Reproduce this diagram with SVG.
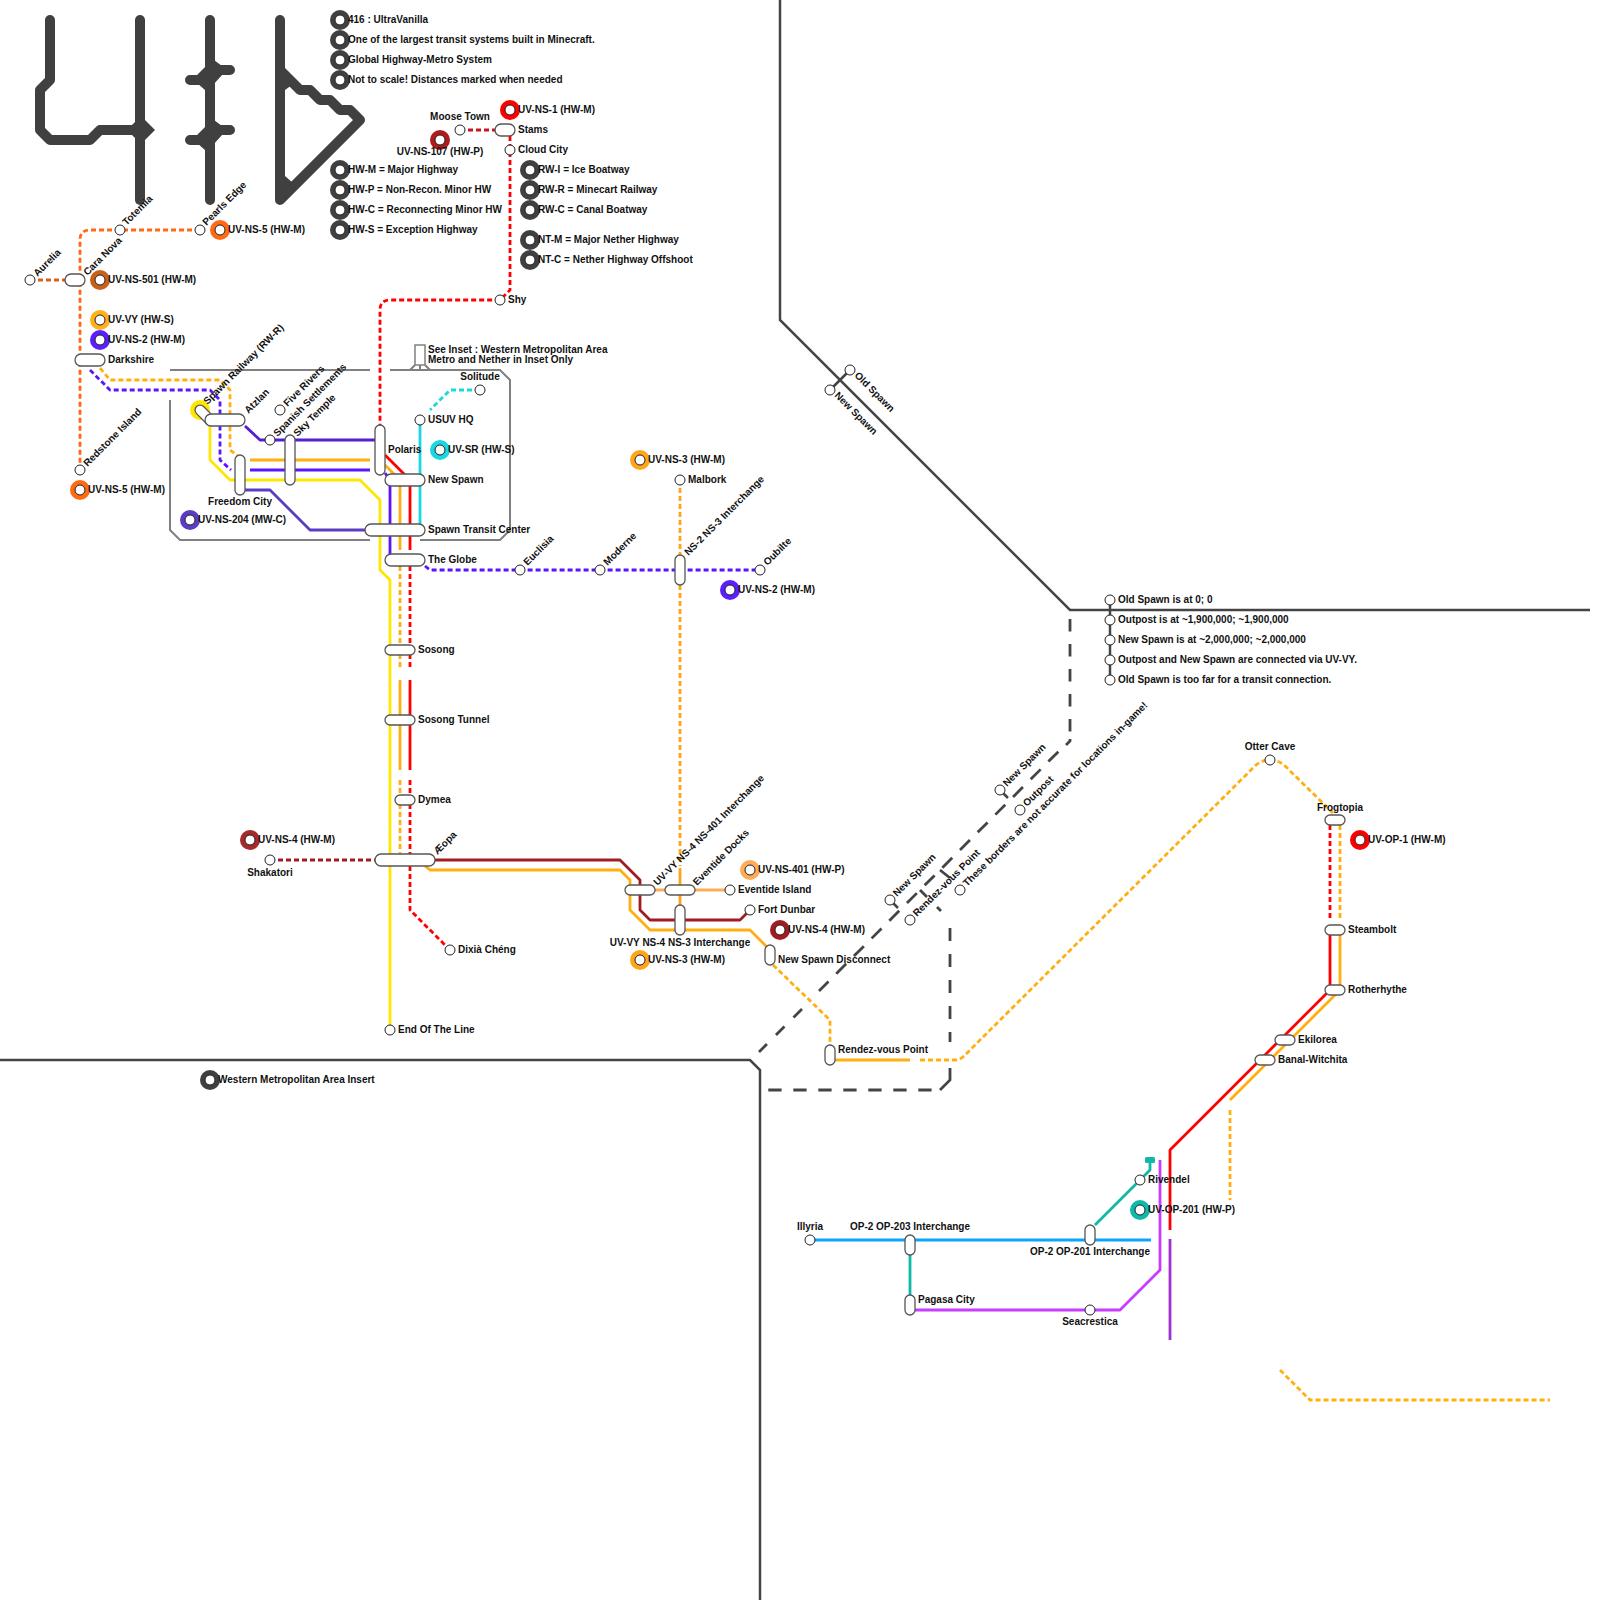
<svg xmlns="http://www.w3.org/2000/svg" width="1600" height="1600" viewBox="0 0 1600 1600">
<style>
text{font-family:"Liberation Sans",Arial,sans-serif;font-size:10px;font-weight:700;fill:#111}
.m{text-anchor:middle}
.l{fill:none;stroke-width:2.8;stroke-linejoin:round}
.d{stroke-dasharray:5 3}
.s{fill:#fff;stroke:#222;stroke-width:1}
.i{fill:#fff;stroke:#555;stroke-width:1.3}
.b{fill:none;stroke:#444;stroke-width:2.5}
.bd{fill:none;stroke:#444;stroke-width:2.8;stroke-dasharray:13 12}
.g{fill:none;stroke:#808080;stroke-width:2}
.logo{fill:none;stroke:#404040;stroke-width:10;stroke-linecap:round;stroke-linejoin:round}
.lf{fill:#404040}
.red{stroke:#f00}.dr{stroke:#a01c20}.or{stroke:#ffaf0f}.ns3{stroke:#ffa51a}.pu{stroke:#5a14ff}.ye{stroke:#ffe600}.cy{stroke:#19d8e0}.o5{stroke:#ff6a13}.te{stroke:#10b8a8}.bl{stroke:#0aa5ff}.ma{stroke:#c83cff}
</style>
<g id="logo">
<path class="logo" d="M50 20V80L40 90V130L50 140H90L100 130H140"/>
<path class="logo" d="M140 20V200"/>
<path class="lf" d="M141 116L155 130L141 144L127 130Z"/>
<path class="logo" d="M210 20V200M190 80H200M230 70H220M190 140H200M230 130H220"/>
<path class="lf" d="M210 57L222 66V75L213 85L205 90L197 83V75L208 64ZM210 117L222 126V135L213 145L205 150L197 143V135L208 124Z"/>
<path class="logo" d="M280 20V200L360 120L350 110H340L330 100H320L310 90H300L280 70"/>
<path class="lf" d="M285 72V90L292 85ZM285 176V192L293 183Z"/>
</g>
<g id="borders">
<path class="b" d="M780 0V320L1070 610H1590"/>
<path class="b" d="M0 1060H750L760 1070V1600"/>
<path class="bd" style="stroke-dasharray:12.5 12.5" d="M1070 619V732"/>
<path class="bd" style="stroke-dasharray:none" d="M1070 739V741L1066 745"/>
<path class="bd" style="stroke-dasharray:14 11" d="M1058.3 751.7L819 991"/>
<path class="bd" style="stroke-dasharray:12 12.8" d="M802 1009L759 1052"/>
<path class="bd" style="stroke-dasharray:13.3 11.7" d="M768.3 1090H932"/>
<path class="bd" style="stroke-dasharray:none" d="M940 1090L950 1080V1068"/>
<path class="bd" style="stroke-dasharray:13 13" d="M950 928V1042"/>
<path class="bd" style="stroke-dasharray:none" d="M937 907L941 911M920 890L927 897M940 870L950 878"/>
<path class="g" d="M170 370H370M390 370H500L510 380V530L500 540H420M370 540H180L170 530V400"/>
<path class="g" d="M410 370L415 365M430 370L425 365M420 365V370"/>
<rect x="415" y="345" width="10" height="20" fill="#fff" stroke="#808080" stroke-width="1.5"/>
</g>
<g id="connectors">
<path class="l d" stroke="#c81420" d="M460 130H505"/>
<path class="l d red" d="M510 136V290L500 300H390Q380 300 380 310V430"/>
<path class="l d o5" d="M200 230H90Q80 230 80 240V470"/>
<path class="l d" stroke="#d9601a" d="M30 280H75"/>
<path class="l d or" d="M100 368L110 380H220L230 390V450L238 456"/>
<path class="l d pu" d="M90 370L110 390H210L220 400V460L231 470"/>
<path class="l or" d="M250 460H370M385 465L400 480V550"/>
<path class="l pu" d="M250 470H370M385 473L390 480V556"/>
<path class="l ye" d="M210 420V460L230 480H360L380 500V570L390 580V1030"/>
<path class="l" stroke="#5220d0" d="M245 426L260 440H380"/>
<path class="l" stroke="#5b3cc4" d="M245 490H270L310 530H370"/>
<path class="l red" d="M385 455L410 480V550"/>
<path class="l cy" d="M420 420V530"/>
<path class="l d cy" d="M480 390H450L430 410"/>
<path class="l d or" d="M400 566V670M400 780V855"/>
<path class="l or" d="M400 680V770"/>
<path class="l d red" d="M410 566V670M410 780V855M410 866V910L450 950"/>
<path class="l red" d="M410 680V770"/>
<path class="l d pu" d="M425 566L430 570H760"/>
<path class="l d" stroke="#a01c20" d="M270 860H375"/>
<path class="l dr" d="M435 860H620L640 880V910L650 920H740L750 910"/>
<path class="l or" d="M425 866L430 870H620L630 880V910L650 930H750L770 950"/>
<path class="l d or" d="M773 965L830 1020V1050"/>
<path class="l or" d="M835 1060H910"/>
<path class="l d or" d="M920 1060H955Q960 1060 964 1056L1256 765Q1262 760 1270 760Q1278 760 1284 765L1333 813"/>
<path class="l d ns3" d="M680 480V555M680 585V866"/>
<path class="l ns3" d="M680 868V905"/>
<path class="l" stroke="#ffab57" d="M655 890H730"/>
<path class="l d red" d="M1330 825V920"/>
<path class="l d or" d="M1340 825V920"/>
<path class="l red" d="M1330 935V990L1170 1150V1230"/>
<path class="l or" d="M1340 935V990L1230 1100"/>
<path class="l d or" d="M1230 1110V1200"/>
<path class="l d or" d="M1280 1370L1310 1400H1550"/>
<path class="l bl" d="M810 1240H1151"/>
<path class="l te" d="M910 1255V1295M1095 1225L1150 1170V1160"/>
<rect x="1145" y="1157" width="10" height="6" rx="1.5" fill="#10b8a8"/>
<path class="l ma" d="M915 1310H1120L1160 1270V1160"/>
<path class="l" stroke="#a030d0" d="M1170 1239V1340"/>
<path d="M1110 600V680M830 390L850 370M890 900L898 908M1000 790L1008 798" stroke="#444" stroke-width="2.5" fill="none"/>
</g>
<g id="legend-416"><circle cx="340" cy="20" r="10" class="lf"/><circle cx="340" cy="20" r="5" class="s"/><text x="348" y="23">416 : UltraVanilla</text></g>
<g id="legend-largest"><circle cx="340" cy="40" r="10" class="lf"/><circle cx="340" cy="40" r="5" class="s"/><text x="348" y="43">One of the largest transit systems built in Minecraft.</text></g>
<g id="legend-global"><circle cx="340" cy="60" r="10" class="lf"/><circle cx="340" cy="60" r="5" class="s"/><text x="348" y="63">Global Highway-Metro System</text></g>
<g id="legend-scale"><circle cx="340" cy="80" r="10" class="lf"/><circle cx="340" cy="80" r="5" class="s"/><text x="348" y="83">Not to scale! Distances marked when needed</text></g>
<g id="legend-hwm"><circle cx="340" cy="170" r="10" class="lf"/><circle cx="340" cy="170" r="5" class="s"/><text x="348" y="173">HW-M = Major Highway</text></g>
<g id="legend-hwp"><circle cx="340" cy="190" r="10" class="lf"/><circle cx="340" cy="190" r="5" class="s"/><text x="348" y="193">HW-P = Non-Recon. Minor HW</text></g>
<g id="legend-hwc"><circle cx="340" cy="210" r="10" class="lf"/><circle cx="340" cy="210" r="5" class="s"/><text x="348" y="213">HW-C = Reconnecting Minor HW</text></g>
<g id="legend-hws"><circle cx="340" cy="230" r="10" class="lf"/><circle cx="340" cy="230" r="5" class="s"/><text x="348" y="233">HW-S = Exception Highway</text></g>
<g id="legend-rwi"><circle cx="530" cy="170" r="10" class="lf"/><circle cx="530" cy="170" r="5" class="s"/><text x="538" y="173">RW-I = Ice Boatway</text></g>
<g id="legend-rwr"><circle cx="530" cy="190" r="10" class="lf"/><circle cx="530" cy="190" r="5" class="s"/><text x="538" y="193">RW-R = Minecart Railway</text></g>
<g id="legend-rwc"><circle cx="530" cy="210" r="10" class="lf"/><circle cx="530" cy="210" r="5" class="s"/><text x="538" y="213">RW-C = Canal Boatway</text></g>
<g id="legend-ntm"><circle cx="530" cy="240" r="10" class="lf"/><circle cx="530" cy="240" r="5" class="s"/><text x="538" y="243">NT-M = Major Nether Highway</text></g>
<g id="legend-ntc"><circle cx="530" cy="260" r="10" class="lf"/><circle cx="530" cy="260" r="5" class="s"/><text x="538" y="263">NT-C = Nether Highway Offshoot</text></g>
<g id="legend-wma"><circle cx="210" cy="1080" r="10" class="lf"/><circle cx="210" cy="1080" r="5" class="s"/><text x="218" y="1083">Western Metropolitan Area Insert</text></g>
<g id="ring-ns1"><circle cx="510" cy="110" r="10" fill="#f00"/><circle cx="510" cy="110" r="5" class="s"/><text x="518" y="113">UV-NS-1 (HW-M)</text></g>
<g id="ring-ns107"><circle cx="440" cy="140" r="10" fill="#b01c1c"/><circle cx="440" cy="140" r="5" class="s"/><text class="m" x="440" y="155">UV-NS-107 (HW-P)</text></g>
<g id="ring-ns5a"><circle cx="220" cy="230" r="10" fill="#ff6a13"/><circle cx="220" cy="230" r="5" class="s"/><text x="228" y="233">UV-NS-5 (HW-M)</text></g>
<g id="ring-ns501"><circle cx="100" cy="280" r="10" fill="#c9601a"/><circle cx="100" cy="280" r="5" class="s"/><text x="108" y="283">UV-NS-501 (HW-M)</text></g>
<g id="ring-vy"><circle cx="100" cy="320" r="10" fill="#ffb01a"/><circle cx="100" cy="320" r="5" class="s"/><text x="108" y="323">UV-VY (HW-S)</text></g>
<g id="ring-ns2a"><circle cx="100" cy="340" r="10" fill="#5a1eff"/><circle cx="100" cy="340" r="5" class="s"/><text x="108" y="343">UV-NS-2 (HW-M)</text></g>
<g id="ring-ns5b"><circle cx="80" cy="490" r="10" fill="#ff6a13"/><circle cx="80" cy="490" r="5" class="s"/><text x="88" y="493">UV-NS-5 (HW-M)</text></g>
<g id="ring-ns204"><circle cx="190" cy="520" r="10" fill="#5b3cc4"/><circle cx="190" cy="520" r="5" class="s"/><text x="198" y="523">UV-NS-204 (MW-C)</text></g>
<g id="ring-sr"><circle cx="440" cy="450" r="10" fill="#19d8e0"/><circle cx="440" cy="450" r="5" class="s"/><text x="448" y="453">UV-SR (HW-S)</text></g>
<g id="ring-ns3a"><circle cx="640" cy="460" r="10" fill="#ffa51a"/><circle cx="640" cy="460" r="5" class="s"/><text x="648" y="463">UV-NS-3 (HW-M)</text></g>
<g id="ring-ns2b"><circle cx="730" cy="590" r="10" fill="#5a1eff"/><circle cx="730" cy="590" r="5" class="s"/><text x="738" y="593">UV-NS-2 (HW-M)</text></g>
<g id="ring-ns4a"><circle cx="250" cy="840" r="10" fill="#a52a2a"/><circle cx="250" cy="840" r="5" class="s"/><text x="258" y="843">UV-NS-4 (HW-M)</text></g>
<g id="ring-ns401"><circle cx="750" cy="870" r="10" fill="#ffab57"/><circle cx="750" cy="870" r="5" class="s"/><text x="758" y="873">UV-NS-401 (HW-P)</text></g>
<g id="ring-ns4b"><circle cx="780" cy="930" r="10" fill="#a01c20"/><circle cx="780" cy="930" r="5" class="s"/><text x="788" y="933">UV-NS-4 (HW-M)</text></g>
<g id="ring-ns3b"><circle cx="640" cy="960" r="10" fill="#ffa51a"/><circle cx="640" cy="960" r="5" class="s"/><text x="648" y="963">UV-NS-3 (HW-M)</text></g>
<g id="ring-op1"><circle cx="1360" cy="840" r="10" fill="#f00"/><circle cx="1360" cy="840" r="5" class="s"/><text x="1368" y="843">UV-OP-1 (HW-M)</text></g>
<g id="ring-op201"><circle cx="1140" cy="1210" r="10" fill="#10b8a8"/><circle cx="1140" cy="1210" r="5" class="s"/><text x="1148" y="1213">UV-OP-201 (HW-P)</text></g>
<g id="moose-town"><circle cx="460" cy="130" r="5" class="s"/><text class="m" x="460" y="120">Moose Town</text></g>
<g id="stams"><rect x="495" y="124" width="20" height="12" rx="6" class="i"/><text x="518" y="133">Stams</text></g>
<g id="cloud-city"><circle cx="510" cy="150" r="5" class="s"/><text x="518" y="153">Cloud City</text></g>
<g id="shy"><circle cx="500" cy="300" r="5" class="s"/><text x="508" y="303">Shy</text></g>
<g id="totemia"><circle cx="120" cy="230" r="5" class="s"/><text x="126.5" y="226" transform="rotate(-45 126.5 226)">Totemia</text></g>
<g id="pearls-edge"><circle cx="200" cy="230" r="5" class="s"/><text x="206.5" y="226" transform="rotate(-45 206.5 226)">Pearls Edge</text></g>
<g id="aurelia"><circle cx="30" cy="280" r="5" class="s"/><text x="37.5" y="277" transform="rotate(-45 37.5 277)">Aurelia</text></g>
<g id="cara-nova"><rect x="65" y="274" width="20" height="12" rx="6" class="i"/><text x="87.5" y="276" transform="rotate(-45 87.5 276)">Cara Nova</text></g>
<g id="darkshire"><rect x="75" y="354" width="30" height="12" rx="6" class="i"/><text x="108" y="363">Darkshire</text></g>
<g id="redstone-island"><circle cx="80" cy="470" r="5" class="s"/><text x="87.5" y="467" transform="rotate(-45 87.5 467)">Redstone Island</text></g>
<g id="spawn-railway"><circle cx="200" cy="410" r="10" fill="#ffe600"/><rect x="193" y="410" width="24" height="10" rx="5" class="i" transform="rotate(45 205 415)"/><text x="207.5" y="405" transform="rotate(-45 207.5 405)">Spawn Railway (RW-R)</text></g>
<g id="atzlan"><rect x="205" y="414" width="40" height="12" rx="6" class="i"/><text x="248.5" y="414" transform="rotate(-45 248.5 414)">Atzlan</text></g>
<g id="five-rivers"><circle cx="280" cy="410" r="5" class="s"/><text x="287.5" y="407" transform="rotate(-45 287.5 407)">Five Rivers</text></g>
<g id="spanish-settlements"><circle cx="270" cy="440" r="5" class="s"/><text x="277.5" y="437" transform="rotate(-45 277.5 437)">Spanish Settlements</text></g>
<g id="sky-temple"><rect x="285" y="435" width="10" height="50" rx="5" class="i"/><text x="297.5" y="437" transform="rotate(-45 297.5 437)">Sky Temple</text></g>
<g id="freedom-city"><rect x="235" y="455" width="10" height="40" rx="5" class="i"/><text class="m" x="240" y="505">Freedom City</text></g>
<g id="polaris"><rect x="375" y="425" width="10" height="50" rx="5" class="i"/><text x="388" y="453">Polaris</text></g>
<g id="new-spawn"><rect x="385" y="474" width="40" height="12" rx="6" class="i"/><text x="428" y="483">New Spawn</text></g>
<g id="spawn-transit-center"><rect x="365" y="524" width="60" height="12" rx="6" class="i"/><text x="428" y="533">Spawn Transit Center</text></g>
<g id="the-globe"><rect x="385" y="554" width="40" height="12" rx="6" class="i"/><text x="428" y="563">The Globe</text></g>
<g id="usuv-hq"><circle cx="420" cy="420" r="5" class="s"/><text x="428" y="423">USUV HQ</text></g>
<g id="solitude"><circle cx="480" cy="390" r="5" class="s"/><text class="m" x="480" y="380">Solitude</text></g>
<g id="inset-note"><text x="428" y="352.5">See Inset : Western Metropolitan Area</text><text x="428" y="362.5">Metro and Nether in Inset Only</text></g>
<g id="euclisia"><circle cx="520" cy="570" r="5" class="s"/><text x="527.5" y="566" transform="rotate(-45 527.5 566)">Euclisia</text></g>
<g id="moderne"><circle cx="600" cy="570" r="5" class="s"/><text x="607.5" y="566" transform="rotate(-45 607.5 566)">Moderne</text></g>
<g id="ns2-ns3"><rect x="675" y="555" width="10" height="30" rx="5" class="i"/><text x="688.5" y="556" transform="rotate(-45 688.5 556)">NS-2  NS-3 Interchange</text></g>
<g id="oubilte"><circle cx="760" cy="570" r="5" class="s"/><text x="767.5" y="566" transform="rotate(-45 767.5 566)">Oubilte</text></g>
<g id="malbork"><circle cx="680" cy="480" r="5" class="s"/><text x="688" y="483">Malbork</text></g>
<g id="sosong"><rect x="385" y="645" width="30" height="10" rx="5" class="i"/><text x="418" y="653">Sosong</text></g>
<g id="sosong-tunnel"><rect x="385" y="715" width="30" height="10" rx="5" class="i"/><text x="418" y="723">Sosong Tunnel</text></g>
<g id="dymea"><rect x="395" y="795" width="20" height="10" rx="5" class="i"/><text x="418" y="803">Dymea</text></g>
<g id="aeopa"><rect x="375" y="854" width="60" height="12" rx="6" class="i"/><text x="437.5" y="855" transform="rotate(-45 437.5 855)">Æopa</text></g>
<g id="shakatori"><circle cx="270" cy="860" r="5" class="s"/><text class="m" x="270" y="876">Shakatori</text></g>
<g id="dixia"><circle cx="450" cy="950" r="5" class="s"/><text x="458" y="953">Dixià Chéng</text></g>
<g id="end-of-line"><circle cx="390" cy="1030" r="5" class="s"/><text x="398" y="1033">End Of The Line</text></g>
<g id="vy-ns4-ns401"><rect x="625" y="885" width="30" height="10" rx="5" class="i"/><text x="657.5" y="886" transform="rotate(-45 657.5 886)">UV-VY NS-4 NS-401 Interchange</text></g>
<g id="eventide-docks"><rect x="665" y="885" width="30" height="10" rx="5" class="i"/><text x="697" y="886" transform="rotate(-45 697 886)">Eventide Docks</text></g>
<g id="eventide-island"><circle cx="730" cy="890" r="5" class="s"/><text x="738" y="893">Eventide Island</text></g>
<g id="fort-dunbar"><circle cx="750" cy="910" r="5" class="s"/><text x="758" y="913">Fort Dunbar</text></g>
<g id="vy-ns4-ns3"><rect x="675" y="905" width="10" height="30" rx="5" class="i"/><text class="m" x="680" y="945.5">UV-VY NS-4 NS-3 Interchange</text></g>
<g id="ns-disconnect"><rect x="765" y="945" width="10" height="20" rx="5" class="i"/><text x="778" y="963">New Spawn Disconnect</text></g>
<g id="rendez-vous"><rect x="825" y="1045" width="10" height="20" rx="5" class="i"/><text x="838" y="1052.5">Rendez-vous Point</text></g>
<g id="old-spawn"><circle cx="850" cy="370" r="5" class="s"/><text x="854" y="376" transform="rotate(45 854 376)">Old Spawn</text></g>
<g id="new-spawn-a"><circle cx="830" cy="390" r="5" class="s"/><text x="834" y="396" transform="rotate(45 834 396)">New Spawn</text></g>
<g id="new-spawn-b"><circle cx="890" cy="900" r="5" class="s"/><text x="897" y="897" transform="rotate(-45 897 897)">New Spawn</text></g>
<g id="rendez-vous-b"><circle cx="910" cy="920" r="5" class="s"/><text x="917" y="917" transform="rotate(-45 917 917)">Rendez-vous Point</text></g>
<g id="borders-note"><circle cx="960" cy="890" r="5" class="s"/><text x="967" y="887" transform="rotate(-45 967 887)">These borders are not accurate for locations in-game!</text></g>
<g id="new-spawn-c"><circle cx="1000" cy="790" r="5" class="s"/><text x="1007" y="787" transform="rotate(-45 1007 787)">New Spawn</text></g>
<g id="outpost"><circle cx="1020" cy="810" r="5" class="s"/><text x="1027" y="807" transform="rotate(-45 1027 807)">Outpost</text></g>
<g id="note-old"><circle cx="1110" cy="600" r="5" class="s"/><text x="1118" y="603">Old Spawn is at 0; 0</text></g>
<g id="note-outpost"><circle cx="1110" cy="620" r="5" class="s"/><text x="1118" y="623">Outpost is at ~1,900,000; ~1,900,000</text></g>
<g id="note-new"><circle cx="1110" cy="640" r="5" class="s"/><text x="1118" y="643">New Spawn is at ~2,000,000; ~2,000,000</text></g>
<g id="note-vy"><circle cx="1110" cy="660" r="5" class="s"/><text x="1118" y="663">Outpost and New Spawn are connected via UV-VY.</text></g>
<g id="note-far"><circle cx="1110" cy="680" r="5" class="s"/><text x="1118" y="683">Old Spawn is too far for a transit connection.</text></g>
<g id="otter-cave"><circle cx="1270" cy="760" r="5" class="s"/><text class="m" x="1270" y="750">Otter Cave</text></g>
<g id="frogtopia"><rect x="1325" y="815" width="20" height="10" rx="5" class="i"/><text class="m" x="1340" y="810.5">Frogtopia</text></g>
<g id="steambolt"><rect x="1325" y="925" width="20" height="10" rx="5" class="i"/><text x="1348" y="933">Steambolt</text></g>
<g id="rotherhythe"><rect x="1325" y="985" width="20" height="10" rx="5" class="i"/><text x="1348" y="993">Rotherhythe</text></g>
<g id="ekilorea"><rect x="1275" y="1035" width="20" height="10" rx="5" class="i"/><text x="1298" y="1043">Ekilorea</text></g>
<g id="banal-witchita"><rect x="1255" y="1055" width="20" height="10" rx="5" class="i"/><text x="1278" y="1063">Banal-Witchita</text></g>
<g id="illyria"><circle cx="810" cy="1240" r="5" class="s"/><text class="m" x="810" y="1230">Illyria</text></g>
<g id="op2-op203"><rect x="905" y="1235" width="10" height="20" rx="5" class="i"/><text class="m" x="910" y="1230">OP-2 OP-203 Interchange</text></g>
<g id="pagasa"><rect x="905" y="1295" width="10" height="20" rx="5" class="i"/><text x="918" y="1302.5">Pagasa City</text></g>
<g id="seacrestica"><circle cx="1090" cy="1310" r="5" class="s"/><text class="m" x="1090" y="1325">Seacrestica</text></g>
<g id="op2-op201"><rect x="1085" y="1225" width="10" height="20" rx="5" class="i"/><text class="m" x="1090" y="1255">OP-2 OP-201 Interchange</text></g>
<g id="rivendel"><circle cx="1140" cy="1180" r="5" class="s"/><text x="1148" y="1183">Rivendel</text></g>
</svg>
